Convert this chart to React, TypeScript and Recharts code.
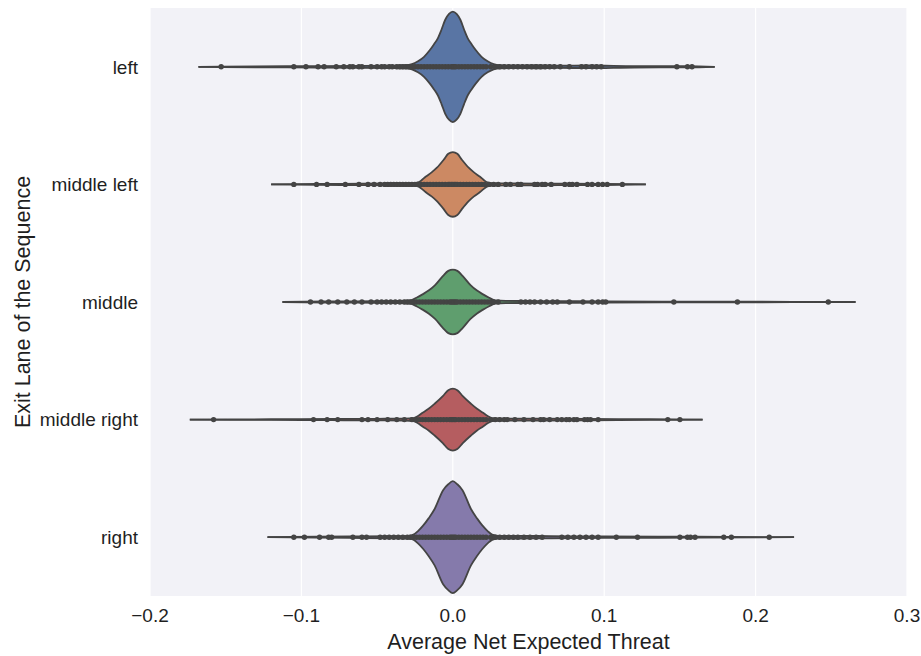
import React from 'react';
import { ComposedChart, Area, Scatter, XAxis, YAxis, CartesianGrid } from 'recharts';

const lanes = ['left', 'middle left', 'middle', 'middle right', 'right'];
const laneColors = ['#5975a4', '#cc8963', '#5f9e6e', '#b55d60', '#857aab'];
const xTicks = [-0.2, -0.1, 0, 0.1, 0.2, 0.3];

// violin outlines: [value, half width in lane units]
const leftShape = [
  [-0.168, 0], [-0.13, 0.004], [-0.09, 0.006], [-0.06, 0.008], [-0.04, 0.01], [-0.031, 0.013],
  [-0.027, 0.022], [-0.023, 0.047], [-0.019, 0.085], [-0.015, 0.145], [-0.0125, 0.19], [-0.01, 0.24],
  [-0.0075, 0.315], [-0.005, 0.4], [-0.0025, 0.45], [0, 0.47], [0.0025, 0.45], [0.005, 0.4],
  [0.0075, 0.315], [0.01, 0.24], [0.0125, 0.19], [0.015, 0.145], [0.019, 0.085], [0.023, 0.047],
  [0.027, 0.022], [0.031, 0.013], [0.04, 0.011], [0.055, 0.013], [0.07, 0.009], [0.09, 0.011],
  [0.12, 0.006], [0.155, 0.005], [0.173, 0],
];
const middleLeftShape = [
  [-0.12, 0], [-0.09, 0.004], [-0.06, 0.006], [-0.04, 0.008], [-0.026, 0.011], [-0.023, 0.017],
  [-0.021, 0.032], [-0.018, 0.065], [-0.014, 0.102], [-0.0105, 0.142], [-0.006, 0.21], [-0.003, 0.26],
  [0, 0.275], [0.003, 0.26], [0.006, 0.21], [0.0105, 0.142], [0.014, 0.102], [0.018, 0.065],
  [0.021, 0.032], [0.023, 0.017], [0.026, 0.011], [0.04, 0.008], [0.07, 0.007], [0.1, 0.005], [0.1275, 0],
];
const middleShape = [
  [-0.1125, 0], [-0.08, 0.005], [-0.05, 0.007], [-0.035, 0.009], [-0.028, 0.013], [-0.024, 0.036],
  [-0.02, 0.065], [-0.016, 0.097], [-0.0117, 0.144], [-0.0066, 0.22], [-0.003, 0.265], [0, 0.275],
  [0.003, 0.265], [0.0066, 0.22], [0.0117, 0.144], [0.016, 0.097], [0.02, 0.065], [0.024, 0.036],
  [0.028, 0.013], [0.035, 0.009], [0.06, 0.008], [0.1, 0.005], [0.18, 0.003], [0.266, 0],
];
const middleRightShape = [
  [-0.1737, 0], [-0.12, 0.003], [-0.08, 0.005], [-0.05, 0.007], [-0.032, 0.009], [-0.026, 0.013],
  [-0.023, 0.031], [-0.02, 0.058], [-0.016, 0.092], [-0.012, 0.135], [-0.0066, 0.2], [-0.003, 0.25],
  [0, 0.264], [0.003, 0.25], [0.0066, 0.2], [0.012, 0.135], [0.016, 0.092], [0.02, 0.058],
  [0.023, 0.031], [0.026, 0.013], [0.035, 0.009], [0.06, 0.008], [0.09, 0.006], [0.13, 0.003], [0.165, 0],
];
const rightShape = [
  [-0.1224, 0], [-0.09, 0.004], [-0.06, 0.007], [-0.04, 0.009], [-0.029, 0.012], [-0.026, 0.022],
  [-0.023, 0.052], [-0.0195, 0.1], [-0.016, 0.16], [-0.012, 0.24], [-0.0064, 0.4], [-0.003, 0.45],
  [0, 0.476], [0.003, 0.45], [0.0064, 0.4], [0.012, 0.24], [0.016, 0.16], [0.0195, 0.1],
  [0.023, 0.052], [0.026, 0.022], [0.03, 0.012], [0.045, 0.011], [0.065, 0.009], [0.1, 0.006],
  [0.16, 0.004], [0.2254, 0],
];

// individual observations (inner="point")
const leftPoints = [
  -0.153, -0.105, -0.097, -0.089, -0.085, -0.077, -0.072, -0.068, -0.066, -0.062, -0.06, -0.054,
  -0.05, -0.047, -0.045, -0.042, -0.04, -0.037, -0.035, -0.033, -0.031, -0.029, -0.027, -0.025,
  -0.023, -0.021, -0.019, -0.017, -0.015, -0.013, -0.011, -0.009, -0.007, -0.005, -0.003, -0.001,
  0, 0.001, 0.002, 0.004, 0.006, 0.008, 0.01, 0.012, 0.014, 0.016, 0.018, 0.02, 0.022, 0.025,
  0.028, 0.031, 0.034, 0.037, 0.04, 0.043, 0.046, 0.049, 0.052, 0.055, 0.058, 0.061, 0.064, 0.067,
  0.071, 0.077, 0.085, 0.088, 0.092, 0.095, 0.098, 0.148, 0.155, 0.158,
];
const middleLeftPoints = [
  -0.105, -0.09, -0.083, -0.071, -0.062, -0.056, -0.052, -0.048, -0.045, -0.043, -0.041, -0.039,
  -0.037, -0.035, -0.033, -0.031, -0.029, -0.027, -0.025, -0.023, -0.021, -0.019, -0.017, -0.015,
  -0.013, -0.011, -0.009, -0.007, -0.005, -0.003, -0.002, -0.001, 0, 0.001, 0.002, 0.003, 0.005,
  0.007, 0.009, 0.011, 0.013, 0.015, 0.017, 0.019, 0.021, 0.024, 0.027, 0.03, 0.035, 0.038, 0.043,
  0.045, 0.054, 0.056, 0.059, 0.061, 0.065, 0.074, 0.077, 0.079, 0.082, 0.089, 0.092, 0.096, 0.099,
  0.102, 0.112,
];
const middlePoints = [
  -0.094, -0.087, -0.082, -0.076, -0.07, -0.065, -0.06, -0.054, -0.05, -0.047, -0.044, -0.041,
  -0.038, -0.035, -0.032, -0.03, -0.028, -0.026, -0.024, -0.022, -0.02, -0.018, -0.016, -0.014,
  -0.012, -0.01, -0.008, -0.006, -0.004, -0.002, -0.001, 0, 0.001, 0.002, 0.003, 0.005, 0.007,
  0.009, 0.011, 0.013, 0.015, 0.017, 0.019, 0.021, 0.023, 0.025, 0.027, 0.03, 0.045, 0.048, 0.051,
  0.054, 0.058, 0.062, 0.066, 0.069, 0.077, 0.086, 0.092, 0.096, 0.099, 0.101, 0.146, 0.188, 0.248,
];
const middleRightPoints = [
  -0.158, -0.092, -0.083, -0.076, -0.06, -0.056, -0.05, -0.043, -0.037, -0.032, -0.027, -0.024,
  -0.022, -0.02, -0.018, -0.016, -0.014, -0.012, -0.01, -0.008, -0.006, -0.004, -0.002, -0.001, 0,
  0.001, 0.002, 0.004, 0.006, 0.008, 0.01, 0.012, 0.014, 0.016, 0.018, 0.02, 0.022, 0.025, 0.028,
  0.031, 0.034, 0.036, 0.041, 0.047, 0.053, 0.058, 0.06, 0.064, 0.069, 0.072, 0.075, 0.077, 0.08,
  0.082, 0.087, 0.089, 0.091, 0.096, 0.142, 0.15,
];
const rightPoints = [
  -0.105, -0.098, -0.088, -0.082, -0.08, -0.066, -0.06, -0.057, -0.048, -0.045, -0.042, -0.039,
  -0.036, -0.033, -0.03, -0.028, -0.026, -0.024, -0.022, -0.02, -0.018, -0.016, -0.014, -0.012,
  -0.01, -0.008, -0.006, -0.004, -0.002, -0.001, 0, 0.001, 0.002, 0.004, 0.006, 0.008, 0.01, 0.012,
  0.014, 0.016, 0.018, 0.02, 0.022, 0.025, 0.028, 0.031, 0.034, 0.037, 0.04, 0.043, 0.047, 0.051,
  0.055, 0.059, 0.072, 0.076, 0.08, 0.084, 0.088, 0.092, 0.096, 0.108, 0.122, 0.15, 0.155, 0.157,
  0.16, 0.179, 0.184, 0.209,
];

const shapes = [leftShape, middleLeftShape, middleShape, middleRightShape, rightShape];
const pointSets = [leftPoints, middleLeftPoints, middlePoints, middleRightPoints, rightPoints];

// one row per outline x, each lane gets [low, high] around its centre (or null)
const allX = Array.from(new Set(shapes.flat().map((p) => p[0]))).sort((a, b) => a - b);
const violinRows = allX.map((x) => {
  const row: any = { x };
  shapes.forEach((shape, i) => {
    const hit = shape.find((p) => p[0] === x);
    const c = i + 0.5;
    row['v' + i] = hit ? [c - hit[1], c + hit[1]] : null;
  });
  return row;
});

const ink = '#1f1f1f';
const edge = '#444444';

const fmtX = (v: number) => (v < 0 ? '\u2212' + Math.abs(v).toFixed(1) : v.toFixed(1));

export default function App() {
  return (
    <div
      style={{
        position: 'absolute',
        left: 0,
        top: 0,
        width: 921,
        height: 656,
        background: '#fff',
        fontFamily: '"Liberation Sans", Arial, sans-serif',
      }}
    >
      <ComposedChart
        width={921}
        height={656}
        data={violinRows}
        margin={{ top: 8, right: 14, bottom: 0, left: 0 }}
      >
        <CartesianGrid horizontal={false} stroke="#ffffff" strokeWidth={1.2} fill="#f2f2f7" />
        <XAxis
          type="number"
          dataKey="x"
          domain={[-0.2, 0.3]}
          ticks={xTicks}
          tickFormatter={fmtX}
          axisLine={false}
          tickLine={false}
          tickSize={0}
          tickMargin={13}
          height={60}
          tick={{ fill: ink, fontSize: 19 }}
          label={{ value: 'Average Net Expected Threat', position: 'insideBottom', offset: 7, fill: ink, fontSize: 21.5 }}
        />
        <YAxis
          type="number"
          domain={[0, 5]}
          reversed
          ticks={[0.5, 1.5, 2.5, 3.5, 4.5]}
          tickFormatter={(v: number) => lanes[Math.floor(v)]}
          axisLine={false}
          tickLine={false}
          tickSize={0}
          tickMargin={12}
          width={150}
          tick={{ fill: ink, fontSize: 19 }}
          label={{
            value: 'Exit Lane of the Sequence',
            angle: -90,
            position: 'insideLeft',
            offset: 22,
            fill: ink,
            fontSize: 21.5,
            style: { textAnchor: 'middle' },
          }}
        />
        {lanes.map((lane, i) => (
          <Area
            key={lane}
            name={lane}
            dataKey={(row: any) => row['v' + i]}
            type="monotone"
            fill={laneColors[i]}
            fillOpacity={1}
            stroke={edge}
            strokeWidth={1.8}
            connectNulls
            dot={false}
            activeDot={false}
            isAnimationActive={false}
          />
        ))}
        {pointSets.map((vals, i) => (
          <Scatter
            key={lanes[i]}
            data={vals.map((v) => ({ x: v, y: i + 0.5 }))}
            dataKey="y"
            fill={edge}
            shape={(p: any) => <circle cx={p.cx} cy={p.cy} r={2.7} fill={edge} />}
            isAnimationActive={false}
          />
        ))}
      </ComposedChart>
    </div>
  );
}
